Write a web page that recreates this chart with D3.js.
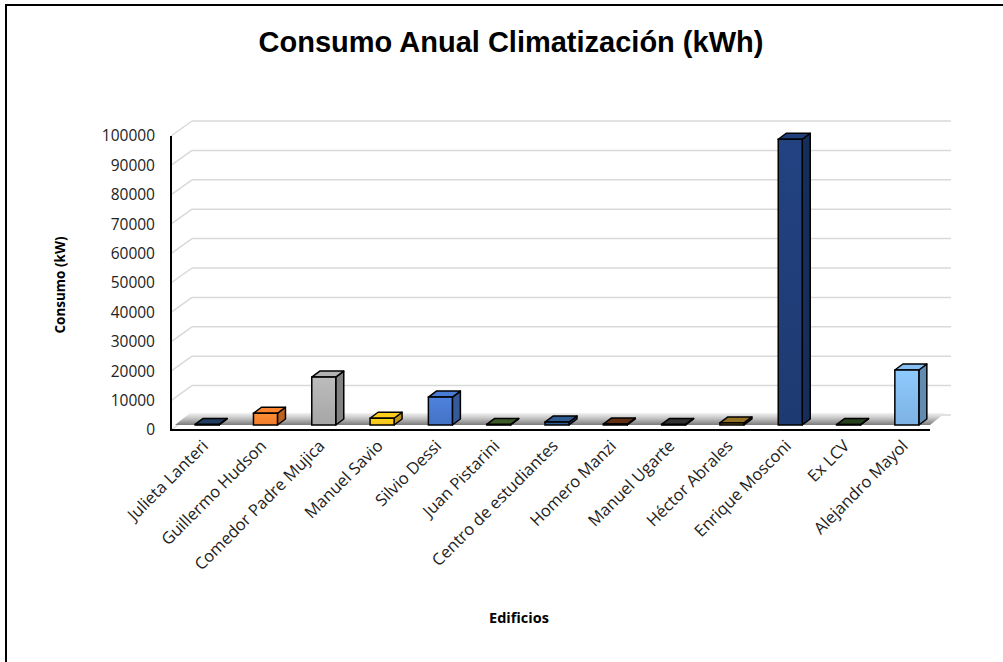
<!DOCTYPE html>
<html>
<head>
<meta charset="utf-8">
<script src="https://cdnjs.cloudflare.com/ajax/libs/d3/7.8.5/d3.min.js"></script>
<style>
  body { margin: 0; background: #fff; }
  svg { display: block; }
</style>
</head>
<body>
<div id="chart"></div>
<script>
// Data
const edificios = ['Julieta Lanteri', 'Guillermo Hudson', 'Comedor Padre Mujica', 'Manuel Savio', 'Silvio Dessi',
    'Juan Pistarini', 'Centro de estudiantes', 'Homero Manzi', 'Manuel Ugarte', 'Héctor Abrales',
    'Enrique Mosconi', 'Ex LCV', 'Alejandro Mayol'];
const consumo = [200, 4000, 16300, 2300, 9500, 200, 1000, 300, 200, 700, 97200, 150, 18700];
const colores = ['#1f3a5a', '#f07d2c', '#a6a6a6', '#f5be1a', '#4473c5', '#3a5424', '#2c5687', '#5b2c12',
    '#2f2f2f', '#8a6a22', '#1e3a72', '#263d1c', '#7db2e3'];
const yTicks = [0, 10000, 20000, 30000, 40000, 50000, 60000, 70000, 80000, 90000, 100000];

const W = 1003, H = 662;
const depthX = 21, depthY = -15;   // wall depth
const barDX = 8, barDY = -6;       // bar depth
const barW = 24;

const svg = d3.select('#chart').append('svg')
    .attr('width', W)
    .attr('height', H);

const defs = svg.append('defs');

// frame
svg.append('rect')
    .attr('x', 6).attr('y', 5)
    .attr('width', 1010).attr('height', 700)
    .attr('fill', 'none')
    .attr('stroke', '#000')
    .attr('stroke-width', 2);

// scales
const x = d3.scalePoint().domain(edificios).range([178, 936]).padding(0.5);
const yFront = d3.scaleLinear().domain([0, 100000]).range([430, 136]);
const yBar = d3.scaleLinear().domain([0, 100000]).range([425, 131]);

const left = 171, right = 930;

// side wall diagonals and back wall gridlines
svg.append('g').selectAll('line.diag')
    .data(yTicks)
    .join('line')
    .attr('x1', left).attr('y1', d => yFront(d))
    .attr('x2', left + depthX).attr('y2', d => yFront(d) + depthY)
    .attr('stroke', '#d9d9d9').attr('stroke-width', 1.5);

svg.append('g').selectAll('line.grid')
    .data(yTicks)
    .join('line')
    .attr('x1', left + depthX).attr('y1', d => yFront(d) + depthY)
    .attr('x2', right + depthX).attr('y2', d => yFront(d) + depthY)
    .attr('stroke', '#d9d9d9').attr('stroke-width', 1.5);

// floor shadow
const floorGrad = defs.append('linearGradient').attr('id', 'floor')
    .attr('x1', 0).attr('y1', 0).attr('x2', 0).attr('y2', 1);
floorGrad.append('stop').attr('offset', 0).attr('stop-color', '#f2f2f2');
floorGrad.append('stop').attr('offset', 0.45).attr('stop-color', '#c4c4c4');
floorGrad.append('stop').attr('offset', 1).attr('stop-color', '#7a7a7a');
svg.append('path')
    .attr('d', `M${left + 4},425 L${right},425 L${right + 15},413 L${left + 19},413 Z`)
    .attr('fill', 'url(#floor)');

// bar gradients
colores.forEach((c, i) => {
    const g = defs.append('linearGradient').attr('id', 'bar' + i)
        .attr('x1', 0).attr('y1', 0).attr('x2', 0).attr('y2', 1);
    g.append('stop').attr('offset', 0).attr('stop-color', d3.color(c).brighter(0.35));
    g.append('stop').attr('offset', 1).attr('stop-color', c);
});

// bars
const bars = svg.append('g').selectAll('g')
    .data(edificios.map((e, i) => ({ e, v: consumo[i], i })))
    .join('g');

bars.append('path') // side
    .attr('d', d => {
        const x1 = x(d.e) + barW / 2, yT = yBar(d.v), yB = yBar(0);
        return `M${x1},${yB} L${x1 + barDX},${yB + barDY} L${x1 + barDX},${yT + barDY} L${x1},${yT} Z`;
    })
    .attr('fill', d => d3.color(colores[d.i]).darker(0.7))
    .attr('stroke', '#000').attr('stroke-width', 1.5).attr('stroke-linejoin', 'round');

bars.append('path') // top
    .attr('d', d => {
        const x0 = x(d.e) - barW / 2, x1 = x(d.e) + barW / 2, yT = yBar(d.v);
        return `M${x0},${yT} L${x1},${yT} L${x1 + barDX},${yT + barDY} L${x0 + barDX},${yT + barDY} Z`;
    })
    .attr('fill', d => d3.color(colores[d.i]).brighter(0.2))
    .attr('stroke', '#000').attr('stroke-width', 1.5).attr('stroke-linejoin', 'round');

bars.append('rect') // front
    .attr('x', d => x(d.e) - barW / 2)
    .attr('y', d => yBar(d.v))
    .attr('width', barW)
    .attr('height', d => yBar(0) - yBar(d.v))
    .attr('fill', d => 'url(#bar' + d.i + ')')
    .attr('stroke', '#000').attr('stroke-width', 1.5);

// front axes
svg.append('line')
    .attr('x1', left).attr('y1', yFront(100000))
    .attr('x2', left).attr('y2', yFront(0) + 1)
    .attr('stroke', '#000').attr('stroke-width', 2);
svg.append('line')
    .attr('x1', left).attr('y1', yFront(0))
    .attr('x2', right).attr('y2', yFront(0))
    .attr('stroke', '#000').attr('stroke-width', 2);

// y tick labels
svg.append('g').selectAll('text')
    .data(yTicks)
    .join('text')
    .attr('x', 155)
    .attr('y', d => yFront(d))
    .attr('dy', '0.35em')
    .attr('text-anchor', 'end')
    .attr('font-family', 'Open Sans, sans-serif')
    .attr('font-size', '15.5px')
    .attr('fill', '#222')
    .text(d => d);

// category labels
svg.append('g').selectAll('text')
    .data(edificios)
    .join('text')
    .attr('text-anchor', 'end')
    .attr('transform', d => `translate(${x(d) + 2},${447}) rotate(-45)`)
    .attr('font-family', 'Open Sans, sans-serif')
    .attr('font-size', '16.5px')
    .attr('fill', '#222')
    .text(d => d);

// title
svg.append('text')
    .attr('x', 511)
    .attr('y', 52)
    .attr('text-anchor', 'middle')
    .attr('font-family', 'Liberation Sans, Arial, sans-serif')
    .attr('font-weight', 'bold')
    .attr('font-size', '29px')
    .text('Consumo Anual Climatización (kWh)');

// axis titles
svg.append('text')
    .attr('transform', 'translate(65,285) rotate(-90)')
    .attr('text-anchor', 'middle')
    .attr('font-family', 'Open Sans, sans-serif')
    .attr('font-weight', 'bold')
    .attr('font-size', '13.5px')
    .text('Consumo (kW)');

svg.append('text')
    .attr('x', 519)
    .attr('y', 623)
    .attr('text-anchor', 'middle')
    .attr('font-family', 'Open Sans, sans-serif')
    .attr('font-weight', 'bold')
    .attr('font-size', '14.5px')
    .text('Edificios');
</script>
</body>
</html>
